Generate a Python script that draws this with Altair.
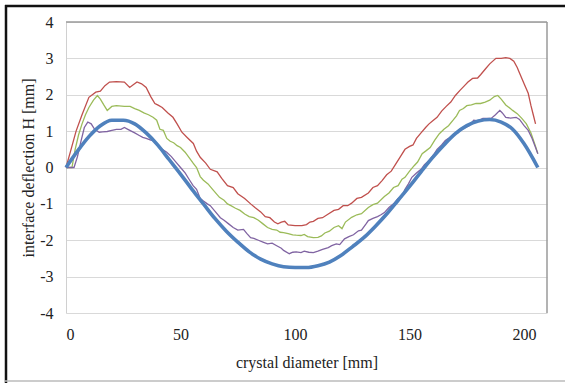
import altair as alt
import pandas as pd

red_x = [0, 2, 4.4, 7, 10, 13, 15, 17, 19, 22, 25.5, 27.8, 29.5, 31, 33, 35, 37, 38.8, 40, 42, 44.5, 46.7, 48.5, 50.6, 53, 55.6, 57, 58.6, 61, 63, 66, 68, 70.5, 73, 75, 78, 80.6, 82.5, 85, 87, 89, 91, 92.5, 94, 95.5, 97, 100, 103, 105, 106.5, 108, 110, 112, 114, 117, 119, 121, 123, 124.7, 127, 129, 132, 134, 136, 138, 140, 142, 144, 146, 148, 150, 151.5, 153, 155, 157, 158.5, 160, 162, 164, 166, 168, 170, 172, 174, 175.5, 177.5, 179.7, 181, 183, 185, 187.7, 190, 192, 193.8, 195.5, 197, 198, 200, 201.8, 203, 204, 205]
red_y = [0, 0.45, 1.0, 1.45, 1.93, 2.07, 2.1, 2.25, 2.35, 2.36, 2.35, 2.2, 2.28, 2.35, 2.3, 2.2, 1.95, 1.76, 1.72, 1.65, 1.5, 1.38, 1.2, 0.97, 0.82, 0.66, 0.45, 0.28, 0.12, -0.05, -0.12, -0.3, -0.5, -0.55, -0.72, -0.85, -1.0, -1.1, -1.22, -1.35, -1.38, -1.5, -1.55, -1.5, -1.48, -1.58, -1.6, -1.6, -1.57, -1.5, -1.48, -1.4, -1.38, -1.3, -1.18, -1.15, -1.05, -1.05, -0.98, -0.85, -0.82, -0.7, -0.55, -0.5, -0.36, -0.2, -0.1, 0.1, 0.3, 0.5, 0.58, 0.62, 0.8, 0.95, 1.1, 1.2, 1.28, 1.38, 1.55, 1.68, 1.8, 1.98, 2.12, 2.25, 2.35, 2.45, 2.46, 2.55, 2.7, 2.85, 3.0, 3.0, 3.02, 3.0, 2.92, 2.75, 2.6, 2.3, 2.04, 1.7, 1.45, 1.2]

green_x = [0, 2.6, 4, 5.5, 7, 8.5, 10, 12, 13.7, 15, 16.5, 18, 20, 22, 25.5, 28, 30, 32, 34, 36, 38, 39.6, 41, 42.5, 44, 45.5, 47, 48.5, 50, 52, 54, 55.5, 57, 58.6, 60, 62, 64, 67, 69, 70.5, 72, 74, 76, 78, 80, 82, 84, 86, 88, 90, 92, 93.5, 95, 97, 99, 100.5, 102.6, 104, 105.5, 108, 110, 111.5, 113, 115, 117, 119, 120.5, 122, 124.7, 127, 129, 132, 134, 136, 139, 141, 143, 145, 146.7, 148, 150, 152, 153.5, 155.5, 157, 159, 161, 163, 165, 167, 169, 170.5, 171.8, 173.5, 175, 177, 179, 181, 183, 185, 187, 188.5, 190, 192, 194, 195, 197, 199, 201, 203, 205, 206]
green_y = [0, 0.0, 0.5, 0.9, 1.2, 1.45, 1.65, 1.85, 1.98, 1.88, 1.72, 1.57, 1.68, 1.7, 1.68, 1.68, 1.62, 1.57, 1.5, 1.45, 1.38, 1.3, 1.05, 1.02, 0.8, 0.72, 0.68, 0.6, 0.55, 0.42, 0.25, 0.12, 0.0, -0.25, -0.35, -0.45, -0.6, -0.82, -0.9, -1.0, -1.05, -1.12, -1.18, -1.28, -1.35, -1.38, -1.45, -1.55, -1.65, -1.7, -1.72, -1.78, -1.79, -1.82, -1.85, -1.86, -1.87, -1.84, -1.9, -1.93, -1.92, -1.88, -1.8, -1.75, -1.65, -1.6, -1.68, -1.5, -1.37, -1.3, -1.27, -1.1, -1.02, -0.98, -0.8, -0.7, -0.55, -0.5, -0.32, -0.27, -0.1, 0.05, 0.15, 0.38, 0.45, 0.55, 0.75, 0.93, 1.05, 1.15, 1.3, 1.42, 1.57, 1.62, 1.7, 1.72, 1.76, 1.76, 1.8, 1.85, 1.95, 1.98, 1.88, 1.72, 1.62, 1.57, 1.48, 1.35, 1.2, 0.95, 0.58, 0.38]

purple_x = [0, 3.5, 5, 6.6, 8, 9.5, 11, 12.5, 14.5, 16, 18, 20, 22, 24, 25.5, 27, 28.5, 30, 32, 33.5, 35, 37, 38, 40, 42, 44, 46, 48, 50, 52, 54, 55.5, 57, 58.6, 60, 61.7, 63, 65, 67.4, 69, 71, 73, 75, 77.5, 79, 80.6, 82, 84, 86, 88, 90, 92, 94, 95, 97.5, 99, 100.5, 102.6, 104, 106, 108, 110, 112, 114.5, 116, 118, 119.5, 121.6, 123.5, 125.5, 127.7, 129, 131, 132, 134, 136, 137.5, 139, 141, 143, 145, 146.7, 148, 149.5, 151, 153, 155, 156.5, 158.5, 160.5, 162, 164, 165.6, 167, 169, 171, 172.5, 174.5, 176, 178, 180, 182, 184, 185.6, 187.5, 189.4, 190.5, 192, 194, 196.5, 198, 200, 201.8, 203.5, 205, 206]
purple_y = [0, 0.0, 0.3, 0.74, 1.1, 1.25, 1.2, 1.05, 0.97, 0.98, 0.99, 1.02, 1.05, 1.05, 1.1, 1.05, 1.0, 0.95, 0.88, 0.83, 0.8, 0.75, 0.74, 0.6, 0.5, 0.42, 0.3, 0.15, 0.0, -0.15, -0.35, -0.5, -0.6, -0.85, -0.92, -1.0, -1.05, -1.2, -1.38, -1.45, -1.55, -1.65, -1.72, -1.7, -1.82, -1.93, -1.95, -2.0, -2.05, -2.1, -2.08, -2.15, -2.22, -2.28, -2.37, -2.33, -2.32, -2.34, -2.3, -2.33, -2.34, -2.3, -2.25, -2.2, -2.15, -2.1, -2.12, -1.96, -1.9, -1.85, -1.74, -1.72, -1.55, -1.46, -1.4, -1.35, -1.3, -1.24, -1.1, -1.0, -0.85, -0.8, -0.6, -0.45, -0.27, -0.15, -0.05, 0.08, 0.19, 0.35, 0.5, 0.62, 0.74, 0.8, 0.9, 0.95, 1.05, 1.1, 1.15, 1.3, 1.28, 1.35, 1.35, 1.35, 1.45, 1.57, 1.5, 1.38, 1.36, 1.38, 1.32, 1.15, 1.02, 0.8, 0.55, 0.38]

blue_x = [0, 5, 10, 15, 20, 25, 30, 35, 40, 45, 50, 55, 60, 65, 70, 75, 80, 85, 90, 95, 100, 105, 110, 115, 120, 125, 130, 135, 140, 145, 150, 155, 160, 165, 170, 175, 180, 185, 190, 195, 200, 206]
blue_y = [0, 0.45, 0.85, 1.15, 1.3, 1.3, 1.2, 0.95, 0.62, 0.22, -0.18, -0.6, -1.0, -1.4, -1.75, -2.05, -2.32, -2.52, -2.65, -2.73, -2.75, -2.75, -2.7, -2.6, -2.42, -2.18, -1.93, -1.62, -1.28, -0.9, -0.52, -0.12, 0.27, 0.62, 0.93, 1.15, 1.28, 1.32, 1.25, 1.05, 0.65, 0.0]

x_ticks = [0, 50, 100, 150, 200]
y_ticks = [-4, -3, -2, -1, 0, 1, 2, 3, 4]
x_max = [210]
y_max = [4]

FONT = "Liberation Serif"
LABEL_EXPR = "datum.value < 0 ? '-' + abs(datum.value) : '' + datum.value"

def frame(xs, ys):
    return pd.DataFrame({"x": xs, "y": ys})

xscale = alt.Scale(domain=[0, 210], nice=False, zero=False)
yscale = alt.Scale(domain=[-4, 4], nice=False)

xaxis = alt.Axis(values=x_ticks, grid=False, ticks=False, domain=False,
                 labelExpr=LABEL_EXPR, labelPadding=13, labelOverlap=False,
                 title="crystal diameter [mm]", titlePadding=12)
yaxis = alt.Axis(values=y_ticks, grid=True, gridColor="#D9D9D9", gridWidth=1.2,
                 ticks=False, domain=True, domainColor="#D0D0D0",
                 labelExpr=LABEL_EXPR, labelPadding=13, labelOverlap=False,
                 title="interface deflection H [mm]", titlePadding=3)

X = alt.X("x:Q", scale=xscale, axis=xaxis)
Y = alt.Y("y:Q", scale=yscale, axis=yaxis)

def line(df, color, width, interp="linear"):
    return alt.Chart(df).mark_line(color=color, strokeWidth=width, interpolate=interp).encode(x=X, y=Y)

red = line(frame(red_x, red_y), "#C0504D", 1.3)
green = line(frame(green_x, green_y), "#9BBB59", 1.3)
purple = line(frame(purple_x, purple_y), "#8064A2", 1.3)
blue = line(frame(blue_x, blue_y), "#4F81BD", 3.6, "monotone")

border_top = alt.Chart(pd.DataFrame({"y": y_max})).mark_rule(color="#9A9A9A", strokeWidth=1.5).encode(
    y=Y, x=alt.value(0), x2=alt.value(481))
border_right = alt.Chart(pd.DataFrame({"x": x_max})).mark_rule(color="#9A9A9A", strokeWidth=1.5).encode(
    x=X, y=alt.value(0), y2=alt.value(291))

one = pd.DataFrame({"a": [0]})
frame_top = alt.Chart(one).mark_rule(color="#111111", strokeWidth=2.5).encode(
    x=alt.value(-61), x2=alt.value(500), y=alt.value(-16))
frame_left = alt.Chart(one).mark_rule(color="#111111", strokeWidth=2.5).encode(
    x=alt.value(-60), y=alt.value(-17), y2=alt.value(361))
frame_bottom = alt.Chart(one).mark_rule(color="#BBBBBB", strokeWidth=1.5).encode(
    x=alt.value(-61), x2=alt.value(500), y=alt.value(359))

chart = alt.layer(
    red, green, purple, blue, border_top, border_right, frame_top, frame_left, frame_bottom
).properties(
    width=481, height=291,
    autosize=alt.AutoSizeParams(type="none"),
    padding={"left": 66, "top": 22, "right": 18, "bottom": 70},
    background="white",
).configure_view(
    stroke=None
).configure_axis(
    labelFont=FONT, labelFontSize=16, labelColor="#222222",
    titleFont=FONT, titleFontSize=16, titleFontWeight="normal", titleColor="#222222",
)

chart.save("out.html", embed_options={"renderer": "svg", "actions": False})
